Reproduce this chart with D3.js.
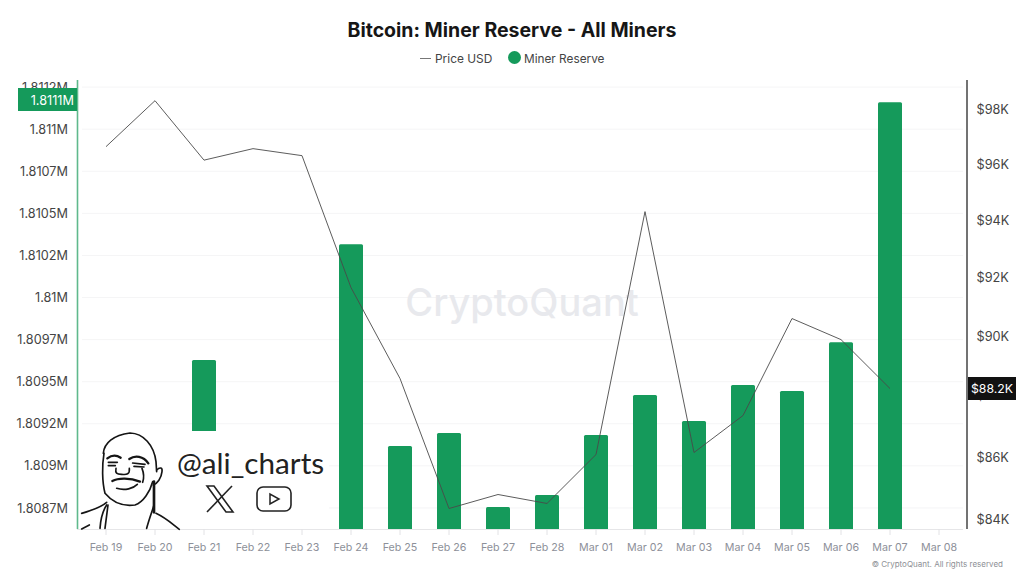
<!DOCTYPE html>
<html>
<head>
<meta charset="utf-8">
<title>Bitcoin: Miner Reserve - All Miners</title>
<script src="https://cdn.jsdelivr.net/npm/d3@7"></script>
<style>
  html, body { margin: 0; padding: 0; background: #fff; }
  svg { display: block; font-family: Inter, "Liberation Sans", sans-serif; }
</style>
</head>
<body>
<svg id="chart" width="1024" height="575"></svg>
<script>
"use strict";

var days = ['Feb 19','Feb 20','Feb 21','Feb 22','Feb 23','Feb 24','Feb 25','Feb 26','Feb 27','Feb 28',
            'Mar 01','Mar 02','Mar 03','Mar 04','Mar 05','Mar 06','Mar 07','Mar 08'];
// null = bar hidden behind the watermark box, or no data yet
var reserve = [null,null,1809629,null,null,1810317,1809118,1809195,1808756,1808827,
               1809183,1809421,1809266,1809480,1809445,1809735,1811160,null];
var price = [96646,98332,96157,96574,96320,91656,88575,84347,84793,84508,
             86077,94313,86143,87350,90595,89880,88241,null];
var reserveTicks = [1811250,1811000,1810750,1810500,1810250,1810000,1809750,1809500,1809250,1809000,1808750];
var reserveLabels = ['1.8112M','1.811M','1.8107M','1.8105M','1.8102M','1.81M','1.8097M','1.8095M','1.8092M','1.809M','1.8087M'];
var priceTicks = [84000,86000,88000,90000,92000,94000,96000,98000];
var priceLabels = ['$84K','$86K','$88K','$90K','$92K','$94K','$96K','$98K'];

var GREEN = '#159a5b';
var plotL = 77.5, plotR = 967, plotT = 80, plotB = 529;

var svg = d3.select('#chart');

var x = d3.scaleBand().domain(days).range([81.5, 963.5]);
var y = d3.scaleLinear().domain([1808625, 1811292]).range([plotB, plotT]);
var yPrice = d3.scaleLog().domain([83700, 99100]).range([plotB, plotT]);

// title + legend
svg.append('text').attr('x', 512).attr('y', 36.5).attr('text-anchor', 'middle')
  .attr('font-size', 19.5).attr('font-weight', 700).attr('fill', '#161616')
  .text('Bitcoin: Miner Reserve - All Miners');
svg.append('line').attr('x1', 420).attr('x2', 431).attr('y1', 58.5).attr('y2', 58.5)
  .attr('stroke', '#777').attr('stroke-width', 1);
svg.append('text').attr('x', 435).attr('y', 62.5).attr('font-size', 11.9).attr('fill', '#444').text('Price USD');
svg.append('circle').attr('cx', 514.5).attr('cy', 57.5).attr('r', 6.5).attr('fill', GREEN);
svg.append('text').attr('x', 524).attr('y', 62.5).attr('font-size', 11.8).attr('fill', '#444').text('Miner Reserve');

// grid
svg.append('g').selectAll('line').data(reserveTicks).enter().append('line')
  .attr('x1', 82).attr('x2', 963)
  .attr('y1', function(d){ return y(d); }).attr('y2', function(d){ return y(d); })
  .attr('stroke', '#f5f5f6');

// background watermark
svg.append('text').attr('x', 522).attr('y', 316).attr('text-anchor', 'middle')
  .attr('font-size', 38).attr('font-weight', 500).attr('fill', '#e8e9ed').text('CryptoQuant');

// bars
var barW = 24;
svg.append('g').selectAll('path')
  .data(days.map(function(d, i){ return {day: d, value: reserve[i]}; }).filter(function(d){ return d.value !== null; }))
  .enter().append('path')
  .attr('fill', GREEN)
  .attr('d', function(d){
    var x0 = x(d.day) + x.bandwidth() / 2 - barW / 2, y0 = y(d.value), r = 1.5;
    return 'M' + x0 + ',' + plotB + 'V' + (y0 + r) + 'Q' + x0 + ',' + y0 + ' ' + (x0 + r) + ',' + y0 +
      'H' + (x0 + barW - r) + 'Q' + (x0 + barW) + ',' + y0 + ' ' + (x0 + barW) + ',' + (y0 + r) + 'V' + plotB + 'Z';
  });

// price line
var line = d3.line()
  .defined(function(d){ return d.value !== null; })
  .x(function(d){ return x(d.day) + x.bandwidth() / 2; })
  .y(function(d){ return yPrice(d.value); });
svg.append('path')
  .datum(days.map(function(d, i){ return {day: d, value: price[i]}; }))
  .attr('d', line).attr('fill', 'none').attr('stroke', '#4a4a4a').attr('stroke-width', 0.9);

// white box the author's stamp sits on
svg.append('rect').attr('x', 79).attr('y', 431).attr('width', 250).attr('height', 99).attr('fill', '#fff');

// x axis
var xAxis = svg.append('g').attr('transform', 'translate(0,' + plotB + ')')
  .call(d3.axisBottom(x).tickSize(6).tickPadding(8));
xAxis.select('.domain').attr('stroke', '#e6e6e8').attr('d', 'M77,0.5H963');
xAxis.selectAll('.tick line').attr('stroke', '#e2e2e5');
xAxis.selectAll('.tick text').attr('font-family', 'Inter').attr('font-size', 10.7).attr('fill', '#8d9099');

// left axis
var yAxis = svg.append('g').attr('transform', 'translate(' + plotL + ',0)')
  .call(d3.axisLeft(y).tickValues(reserveTicks).tickSize(0).tickPadding(9.5)
    .tickFormat(function(d, i){ return reserveLabels[i]; }));
yAxis.select('.domain').attr('stroke', '#5fb98c').attr('stroke-width', 1.6).attr('d', 'M0,' + plotT + 'V' + plotB);
yAxis.selectAll('.tick text').attr('font-family', 'Inter').attr('font-size', 12.7).attr('fill', '#444');

// right axis
var yRight = svg.append('g').attr('transform', 'translate(' + plotR + ',0)')
  .call(d3.axisRight(yPrice).tickValues(priceTicks).tickSize(0).tickPadding(9.5)
    .tickFormat(function(d, i){ return priceLabels[i]; }));
yRight.select('.domain').attr('stroke', '#444').attr('stroke-width', 1.5).attr('d', 'M0,' + plotT + 'V' + plotB);
yRight.selectAll('.tick text').attr('font-family', 'Inter').attr('font-size', 12.7).attr('fill', '#444');

// last value tags
svg.append('rect').attr('x', 18).attr('y', 88).attr('width', 59).attr('height', 23).attr('fill', GREEN);
svg.append('text').attr('x', 74).attr('y', 104.5).attr('text-anchor', 'end').attr('font-size', 12.7)
  .attr('fill', '#fff').text('1.8111M');
svg.append('rect').attr('x', 968).attr('y', 377).attr('width', 48).attr('height', 23).attr('fill', '#111');
svg.append('text').attr('x', 992).attr('y', 393).attr('text-anchor', 'middle').attr('font-size', 12.3)
  .attr('fill', '#fff').text('$88.2K');

svg.append('text').attr('x', 1003).attr('y', 567).attr('text-anchor', 'end').attr('font-size', 8)
  .attr('fill', '#8d8f95').text('© CryptoQuant. All rights reserved');

// @ali_charts stamp: sketched face, handle, icons
var face = svg.append('g').attr('transform', 'translate(80,425) scale(0.3333)')
  .attr('fill', 'none').attr('stroke', '#151515').attr('stroke-width', 5).attr('stroke-linecap', 'round');
var strokes = [
  'M70,85C72,55 100,30 150,24C190,25 222,60 228,110L230,140',
  'M72,85C66,120 66,170 75,205C100,235 130,245 165,240C190,232 210,200 218,170',
  'M230,135C240,125 248,128 246,140C244,160 232,175 220,180',
  'M85,112L112,112', 'M85,122L106,122', 'M158,114L195,118', 'M162,124L192,126',
  'M108,130C105,145 110,148 125,148C140,150 150,148 148,130',
  'M110,190C135,198 160,190 172,178', 'M186,130C192,145 192,160 188,172',
  'M5,265C40,255 65,245 80,232', 'M60,310C62,280 70,255 80,240', 'M84,240L75,310',
  'M200,310C208,280 218,255 222,240', 'M228,265C260,280 280,300 298,313', 'M5,312L28,300'
];
face.selectAll('path').data(strokes).enter().append('path').attr('d', function(d){ return d; });
face.append('path').attr('d', 'M82,100C95,90 110,90 122,98').attr('stroke-width', 7);
face.append('path').attr('d', 'M148,102C165,90 190,93 205,115').attr('stroke-width', 7);
face.append('path').attr('d', 'M97,168C115,158 150,158 180,170').attr('stroke-width', 7);
face.append('path').attr('d', 'M222,170L222,262').attr('stroke-width', 8);

svg.append('text').attr('x', 177).attr('y', 474).attr('font-family', 'Lato').attr('font-size', 29.7)
  .attr('fill', '#222').text('@ali_charts');

var icons = svg.append('g').attr('fill', 'none').attr('stroke', '#222');
icons.append('path').attr('d', 'M207,486L226,512H233L214,486Z').attr('stroke-width', 1.6);
icons.append('path').attr('d', 'M232,486L207,512').attr('stroke-width', 1.6);
icons.append('rect').attr('x', 257).attr('y', 487).attr('width', 34).attr('height', 24).attr('rx', 6).attr('stroke-width', 1.6);
icons.append('path').attr('d', 'M270,494V504L279,499Z').attr('stroke-width', 1.5);
</script>
</body>
</html>
